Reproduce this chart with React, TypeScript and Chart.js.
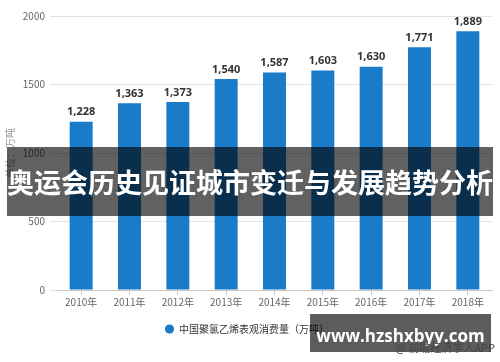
import React, { useEffect, useRef } from "react";
import { Chart, registerables } from "chart.js";

Chart.register(...registerables);

const categories = ["2010年", "2011年", "2012年", "2013年", "2014年", "2015年", "2016年", "2017年", "2018年"];
const consumption = [1228, 1363, 1373, 1540, 1587, 1603, 1630, 1771, 1889];
const seriesName = "中国聚氯乙烯表观消费量（万吨）";
const yTicks = [0, 500, 1000, 1500, 2000];
const yTitle = "单位：万吨";
const bannerText = "奥运会历史见证城市变迁与发展趋势分析";
const siteText = "www.hzshxbyy.com";
const sourceText = "@ 前瞻经济学人APP";

const FONT = '"Noto Sans CJK SC", "Noto Sans", sans-serif';

const valueLabels = {
  id: "valueLabels",
  afterDatasetsDraw(chart: any) {
    const ctx = chart.ctx;
    ctx.save();
    ctx.font = `bold 11px "Noto Sans", ${FONT}`;
    ctx.fillStyle = "#333333";
    ctx.textAlign = "center";
    ctx.textBaseline = "bottom";
    chart.data.datasets.forEach((ds: any, i: number) => {
      const meta = chart.getDatasetMeta(i);
      meta.data.forEach((bar: any, j: number) => {
        const v = ds.data[j] as number;
        ctx.fillText(v.toLocaleString("en-US"), bar.x, bar.y - 4);
      });
    });
    ctx.restore();
  },
};

export default function App() {
  const ref = useRef<HTMLCanvasElement | null>(null);
  useEffect(() => {
    document.body.style.margin = "0";
    if (!ref.current) return;
    const chart = new Chart(ref.current, {
      type: "bar",
      data: {
        labels: categories,
        datasets: [
          {
            label: seriesName,
            data: consumption,
            backgroundColor: "#1a7bc9",
            borderWidth: 0,
            barPercentage: 0.95,
            categoryPercentage: 0.5,
          },
        ],
      },
      options: {
        responsive: false,
        animation: false,
        devicePixelRatio: 1,
        layout: { padding: { top: 16, right: 8, left: 2, bottom: 18 } },
        plugins: {
          tooltip: { enabled: false },
          legend: {
            position: "bottom",
            labels: {
              usePointStyle: true,
              pointStyle: "circle",
              boxWidth: 9,
              boxHeight: 6.5,
              padding: 12,
              color: "#333333",
              font: { family: FONT, size: 10 },
            },
          },
        },
        scales: {
          x: {
            afterFit: (s: any) => {
              s.height = 22;
            },
            grid: {
              display: true,
              drawOnChartArea: false,
              drawTicks: true,
              tickLength: 5,
              offset: false,
              color: "#c8c8c8",
            },
            border: { display: true, color: "#c8c8c8" },
            ticks: { color: "#666666", font: { family: FONT, size: 10 }, padding: 1 },
          },
          y: {
            min: 0,
            max: 2000,
            afterFit: (s: any) => {
              s.width = 55;
            },
            afterBuildTicks: (s: any) => {
              s.ticks = yTicks.map((v) => ({ value: v }));
            },
            grid: { color: "#e3e3e3", tickLength: 7 },
            border: { display: false },
            ticks: {
              color: "#666666",
              font: { family: FONT, size: 10 },
              padding: 5,
              callback: (v: any) => String(v),
            },
            title: {
              display: true,
              text: yTitle,
              color: "#999999",
              font: { family: FONT, size: 10 },
              padding: { top: 2, bottom: 2 },
            },
          },
        },
      },
      plugins: [valueLabels],
    });
    return () => chart.destroy();
  }, []);

  return (
    <div style={{ position: "absolute", left: 0, top: 0, width: 500, height: 362, background: "#fff", overflow: "hidden" }}>
      <canvas ref={ref} width={500} height={362} style={{ display: "block" }} />
      <div
        style={{
          position: "absolute",
          left: 7,
          top: 147,
          width: 486,
          height: 69,
          background: "rgba(0,0,0,0.62)",
          color: "#ffffff",
          fontFamily: FONT,
          fontWeight: 700,
          fontSize: 27,
          lineHeight: "69px",
          textAlign: "center",
          whiteSpace: "nowrap",
          overflow: "hidden",
        }}
      >
        {bannerText}
      </div>
      <div
        style={{
          position: "absolute",
          left: 310,
          top: 314,
          width: 181,
          height: 38,
          background: "rgba(0,0,0,0.64)",
          color: "#ffffff",
          fontFamily: '"Open Sans", "Noto Sans", sans-serif',
          fontWeight: 700,
          fontSize: 17,
          lineHeight: "44px",
          textAlign: "center",
          whiteSpace: "nowrap",
          overflow: "hidden",
        }}
      >
        {siteText}
      </div>
      <div
        style={{
          position: "absolute",
          right: 5,
          top: 339,
          color: "#444444",
          fontFamily: FONT,
          fontSize: 11,
          lineHeight: "16px",
          whiteSpace: "nowrap",
        }}
      >
        {sourceText}
      </div>
    </div>
  );
}
